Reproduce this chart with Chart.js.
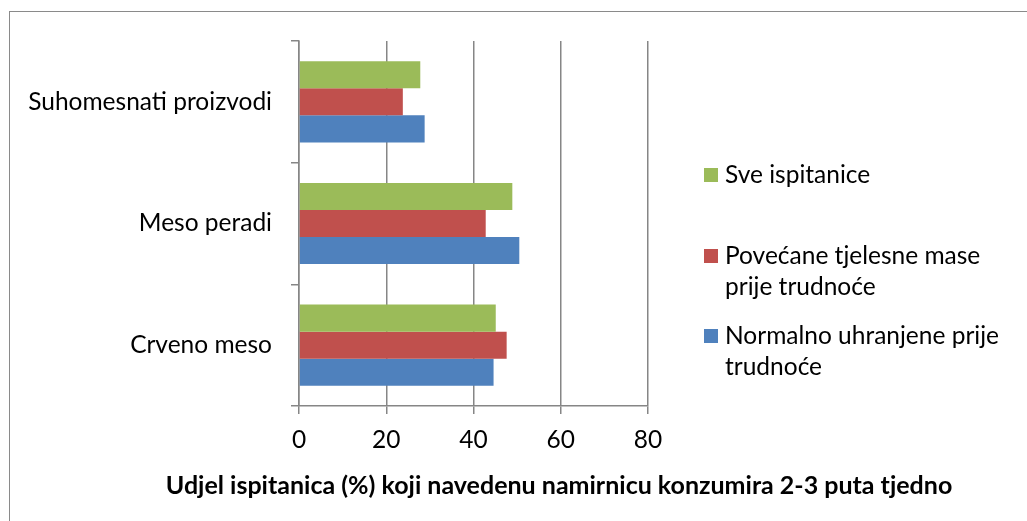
<!DOCTYPE html>
<html>
<head>
<meta charset="utf-8">
<script src="https://cdn.jsdelivr.net/npm/chart.js@4.4.1/dist/chart.umd.min.js"></script>
<style>
  html, body { margin: 0; padding: 0; background: #fff; overflow: hidden; }
  #wrap { position: relative; width: 1027px; height: 521px; overflow: hidden; font-family: Lato, 'Liberation Sans', sans-serif; }
  #frame { position: absolute; left: 9px; top: 11px; width: 1100px; height: 600px; border: 1.5px solid #8a8a8a; box-sizing: border-box; }
  #chart { position: absolute; left: 0; top: 0; }
  #legend { position: absolute; left: 704px; top: 159px; }
  .item { height: 80.5px; display: flex; align-items: flex-start; }
  .box { width: 14px; height: 14px; margin-top: 9px; margin-right: 7px; flex: none; }
  .txt { font-size: 24.5px; line-height: 31px; color: #000; margin-top: -1px; }
  #xtitle { position: absolute; left: 559px; top: 469px; transform: translateX(-50%); white-space: nowrap;
            font-size: 25px; font-weight: bold; color: #000; }
</style>
</head>
<body>
<div id="wrap">
  <div id="frame"></div>
  <canvas id="chart" width="1027" height="521"></canvas>
  <div id="legend"></div>
  <div id="xtitle"></div>
</div>
<script>
// Categories, top to bottom
const CATEGORIES = ['Suhomesnati proizvodi', 'Meso peradi', 'Crveno meso'];

// Series values (%)
const SVE_ISPITANICE = [27.8, 48.9, 45.1];
const POVECANE_MASE = [23.8, 42.8, 47.6];
const NORMALNO_UHRANJENE = [28.8, 50.5, 44.6];

const SERIES_LABELS = [
  ['Sve ispitanice'],
  ['Povećane tjelesne mase', 'prije trudnoće'],
  ['Normalno uhranjene prije', 'trudnoće']
];
const SERIES_COLORS = ['#9BBB59', '#C0504D', '#4F81BD'];

const X_MIN = 0;
const X_MAX = 80;
const X_STEP = 20;
const X_TITLE = 'Udjel ispitanica (%) koji navedenu namirnicu konzumira 2-3 puta tjedno';

const AXIS_GREY = '#868686';
const FONT = { family: "Lato, 'Liberation Sans', sans-serif", size: 24.5 };

function makeDataset(lines, data, color) {
  return {
    label: lines.join(' '),
    data: data,
    backgroundColor: color,
    borderWidth: 0,
    categoryPercentage: 0.667,
    barPercentage: 1.0
  };
}

const datasets = [
  makeDataset(SERIES_LABELS[0], SVE_ISPITANICE, SERIES_COLORS[0]),
  makeDataset(SERIES_LABELS[1], POVECANE_MASE, SERIES_COLORS[1]),
  makeDataset(SERIES_LABELS[2], NORMALNO_UHRANJENE, SERIES_COLORS[2])
];

new Chart(document.getElementById('chart').getContext('2d'), {
  type: 'bar',
  data: { labels: CATEGORIES, datasets },
  options: {
    indexAxis: 'y',
    responsive: false,
    animation: false,
    devicePixelRatio: 1,
    layout: { padding: { left: 0, right: 379, top: 41, bottom: 0 } },
    plugins: {
      legend: { display: false },
      tooltip: { enabled: false }
    },
    scales: {
      x: {
        min: X_MIN,
        max: X_MAX,
        afterFit: (scale) => { scale.height = 115; },
        ticks: { stepSize: X_STEP, color: '#000', font: FONT, padding: 11, maxRotation: 0 },
        grid: { color: AXIS_GREY, lineWidth: 1.5, tickLength: 8, drawTicks: true },
        border: { display: true, color: AXIS_GREY, width: 1.5 }
      },
      y: {
        afterFit: (scale) => { scale.width = 299; },
        ticks: { color: '#000', font: FONT, padding: 19 },
        grid: { drawOnChartArea: false, offset: true, color: AXIS_GREY, lineWidth: 1.5, tickLength: 8 },
        border: { display: true, color: AXIS_GREY, width: 1.5 }
      }
    }
  }
});

// Legend, wrapped like the original
const legend = document.getElementById('legend');
SERIES_LABELS.forEach((lines, i) => {
  const item = document.createElement('div');
  item.className = 'item';
  const box = document.createElement('div');
  box.className = 'box';
  box.style.background = SERIES_COLORS[i];
  const txt = document.createElement('div');
  txt.className = 'txt';
  lines.forEach((line, j) => {
    if (j > 0) txt.appendChild(document.createElement('br'));
    txt.appendChild(document.createTextNode(line));
  });
  item.appendChild(box);
  item.appendChild(txt);
  legend.appendChild(item);
});

document.getElementById('xtitle').textContent = X_TITLE;
</script>
</body>
</html>
